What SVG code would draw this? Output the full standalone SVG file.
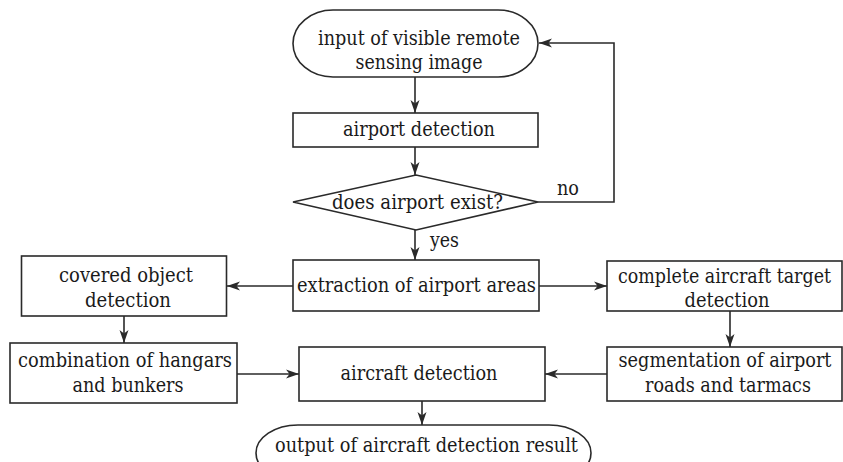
<svg xmlns="http://www.w3.org/2000/svg" width="843" height="462" viewBox="0 0 843 462" font-family="DejaVu Serif, serif" font-size="20">
<style>
.s{fill:#fff;stroke:#2a2a2a;stroke-width:1.6}
.t{fill:#1a1a1a;text-anchor:middle}
.c{fill:none;stroke:#2a2a2a;stroke-width:1.6}
</style>
<defs>
<marker id="a" markerUnits="userSpaceOnUse" markerWidth="13" markerHeight="10" viewBox="0 0 13 10" refX="13" refY="5" orient="auto">
<path d="M0,0.5 L13,5 L0,9.5 L3.5,5 z" fill="#2a2a2a"/>
</marker>
</defs>
<rect width="843" height="462" fill="#fff"/>
<g id="connectors">
<path class="c" d="M415,77 V113" marker-end="url(#a)"/>
<path class="c" d="M415,147 V175" marker-end="url(#a)"/>
<path class="c" d="M415,230 V260" marker-end="url(#a)"/>
<path class="c" d="M538,202 H614 V43 H539" marker-end="url(#a)"/>
<path class="c" d="M293,286 H227" marker-end="url(#a)"/>
<path class="c" d="M539,286 H607" marker-end="url(#a)"/>
<path class="c" d="M124,316 V343" marker-end="url(#a)"/>
<path class="c" d="M730,311 V347" marker-end="url(#a)"/>
<path class="c" d="M237,374 H299" marker-end="url(#a)"/>
<path class="c" d="M607,374 H545" marker-end="url(#a)"/>
<path class="c" d="M422,401 V425" marker-end="url(#a)"/>
<text class="t" x="568" y="195" textLength="22" lengthAdjust="spacingAndGlyphs">no</text>
<text class="t" x="444.5" y="247" textLength="29" lengthAdjust="spacingAndGlyphs">yes</text>
</g>
<g id="input">
<rect class="s" x="293" y="10" width="245" height="67" rx="40" ry="33.5"/>
<text class="t" x="419" y="45" textLength="202" lengthAdjust="spacingAndGlyphs">input of visible remote</text>
<text class="t" x="419" y="69" textLength="127" lengthAdjust="spacingAndGlyphs">sensing image</text>
</g>
<g id="airport-detection">
<rect class="s" x="293" y="113" width="245" height="34"/>
<text class="t" x="419" y="136" textLength="152" lengthAdjust="spacingAndGlyphs">airport detection</text>
</g>
<g id="decision">
<polygon class="s" points="293,202 416,175 538,202 416,230"/>
<text class="t" x="417.5" y="209" textLength="171" lengthAdjust="spacingAndGlyphs">does airport exist?</text>
</g>
<g id="extraction">
<rect class="s" x="293" y="260" width="246" height="51"/>
<text class="t" x="416.5" y="292" textLength="239" lengthAdjust="spacingAndGlyphs">extraction of airport areas</text>
</g>
<g id="covered">
<rect class="s" x="21.5" y="256" width="205" height="60"/>
<text class="t" x="126" y="282" textLength="134" lengthAdjust="spacingAndGlyphs">covered object</text>
<text class="t" x="128" y="307" textLength="86" lengthAdjust="spacingAndGlyphs">detection</text>
</g>
<g id="complete">
<rect class="s" x="607" y="261" width="235" height="50"/>
<text class="t" x="724.5" y="283" textLength="213" lengthAdjust="spacingAndGlyphs">complete aircraft target</text>
<text class="t" x="727" y="307" textLength="85" lengthAdjust="spacingAndGlyphs">detection</text>
</g>
<g id="combination">
<rect class="s" x="10" y="343" width="227" height="60"/>
<text class="t" x="125" y="367" textLength="214" lengthAdjust="spacingAndGlyphs">combination of hangars</text>
<text class="t" x="128" y="392" textLength="111" lengthAdjust="spacingAndGlyphs">and bunkers</text>
</g>
<g id="aircraft-detection">
<rect class="s" x="299" y="347" width="246" height="54"/>
<text class="t" x="419" y="380" textLength="157" lengthAdjust="spacingAndGlyphs">aircraft detection</text>
</g>
<g id="segmentation">
<rect class="s" x="607" y="347" width="235" height="54"/>
<text class="t" x="725" y="367" textLength="213" lengthAdjust="spacingAndGlyphs">segmentation of airport</text>
<text class="t" x="728" y="392" textLength="166" lengthAdjust="spacingAndGlyphs">roads and tarmacs</text>
</g>
<g id="output">
<rect class="s" x="256" y="425" width="335" height="56" rx="42" ry="28"/>
<text class="t" x="426.5" y="452" textLength="303" lengthAdjust="spacingAndGlyphs">output of aircraft detection result</text>
</g>
</svg>
